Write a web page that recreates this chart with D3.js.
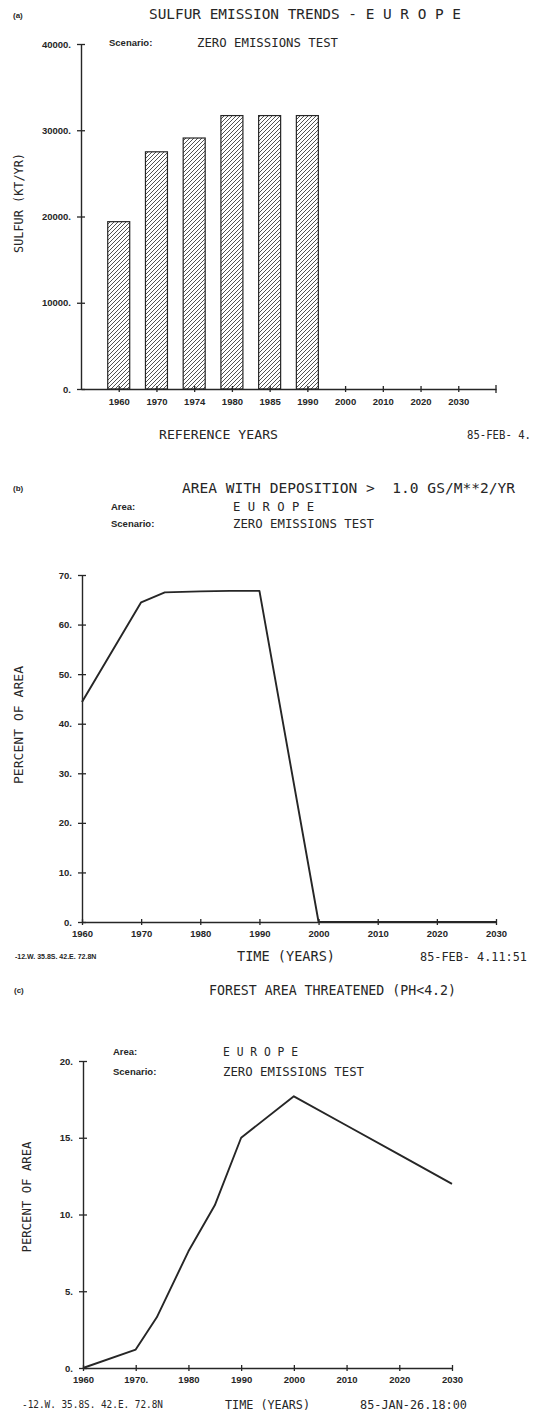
<!DOCTYPE html>
<html>
<head>
<meta charset="utf-8">
<script src="https://cdn.jsdelivr.net/npm/d3@7"></script>
<style>
  html, body { margin: 0; padding: 0; background: #fff; }
  svg { display: block; }
  text { white-space: pre; }
</style>
</head>
<body>
<svg id="chart" width="538" height="1411"></svg>
<script>
// ---------- DATA ----------
const yearsA = ["1960", "1970", "1974", "1980", "1985", "1990", "2000", "2010", "2020", "2030"];
const sulfurA = [19400, 27500, 29100, 31700, 31700, 31700, 0, 0, 0, 0];
const yTicksA = [0, 10000, 20000, 30000, 40000];

const yearsB = [1960, 1970, 1974, 1980, 1985, 1990, 2000, 2010, 2020, 2030];
const percentB = [44.4, 64.5, 66.5, 66.7, 66.8, 66.8, 0, 0, 0, 0];
const yTicksB = [0, 10, 20, 30, 40, 50, 60, 70];

const yearsC = [1960, 1970, 1974, 1980, 1985, 1990, 2000, 2010, 2020, 2030];
const percentC = [0, 1.2, 3.3, 7.6, 10.6, 15.0, 17.7, 15.8, 13.9, 12.0];
const yTicksC = [0, 5, 10, 15, 20];

const xTicksBC = [1960, 1970, 1980, 1990, 2000, 2010, 2020, 2030];
const xTickLabelsC = ["1960", "1970.", "1980", "1990", "2000", "2010", "2020", "2030"];

// ---------- HELPERS ----------
const svg = d3.select("#chart");
svg.append("rect").attr("width", 538).attr("height", 1411).attr("fill", "#fff");

const INK = "#262626";
const MONO = "'DejaVu Sans Mono', 'Liberation Mono', monospace";
const SANS = "'Liberation Sans', Arial, sans-serif";

function mono(txt, x0, x1, y, size) {
  return svg.append("text")
    .attr("x", x0).attr("y", y)
    .attr("dominant-baseline", "middle")
    .attr("font-family", MONO).attr("font-size", size)
    .attr("fill", INK)
    .attr("textLength", x1 - x0).attr("lengthAdjust", "spacingAndGlyphs")
    .text(txt);
}
function sans(txt, x, y, size, anchor, weight) {
  return svg.append("text")
    .attr("x", x).attr("y", y)
    .attr("dominant-baseline", "middle")
    .attr("text-anchor", anchor || "start")
    .attr("font-family", SANS).attr("font-size", size)
    .attr("font-weight", weight || "bold")
    .attr("fill", INK)
    .text(txt);
}
function vlabel(txt, cx, cy, len, size) {
  svg.append("text")
    .attr("transform", `translate(${cx},${cy}) rotate(-90)`)
    .attr("text-anchor", "middle")
    .attr("dominant-baseline", "middle")
    .attr("font-family", MONO).attr("font-size", size)
    .attr("fill", INK)
    .attr("textLength", len).attr("lengthAdjust", "spacingAndGlyphs")
    .text(txt);
}
function styleAxis(g, crossH, crossV) {
  g.select(".domain").attr("stroke", INK).attr("stroke-width", 1.4);
  g.selectAll(".tick line").attr("stroke", INK).attr("stroke-width", 1.3);
  if (crossH) g.selectAll(".tick line").attr("y1", -3).attr("y2", 3);
  if (crossV) g.selectAll(".tick line").attr("x1", -4).attr("x2", 4);
  g.selectAll(".tick text")
    .attr("font-family", SANS).attr("font-weight", "bold")
    .attr("fill", INK);
}

// hatch pattern
const defs = svg.append("defs");
defs.append("pattern")
  .attr("id", "hatch").attr("patternUnits", "userSpaceOnUse")
  .attr("width", 4).attr("height", 4)
  .append("path")
  .attr("d", "M-1,1 l2,-2 M0,4 l4,-4 M3,5 l2,-2")
  .attr("stroke", INK).attr("stroke-width", 0.8);

// ---------- PANEL A ----------
{
  const x = d3.scalePoint().domain(yearsA).range([81, 496]).padding(1);
  const y = d3.scaleLinear().domain([0, 40000]).range([389, 44]);
  const bw = 22;

  svg.append("g").selectAll("rect").data(yearsA.map((d, i) => ({ year: d, v: sulfurA[i] })))
    .join("rect")
    .attr("x", d => x(d.year) - bw / 2)
    .attr("width", bw)
    .attr("y", d => y(d.v))
    .attr("height", d => y(0) - y(d.v))
    .attr("fill", "url(#hatch)")
    .attr("stroke", INK).attr("stroke-width", 1.2);

  const gx = svg.append("g").attr("transform", `translate(0,${y(0)})`)
    .call(d3.axisBottom(x).tickSizeInner(3).tickSizeOuter(0).tickPadding(6));
  styleAxis(gx, true, false);
  gx.selectAll(".tick text").attr("font-size", 9.5);
  gx.append("line").attr("x1", 496).attr("x2", 496).attr("y1", -4).attr("y2", 4)
    .attr("stroke", INK).attr("stroke-width", 1.3);

  const gy = svg.append("g").attr("transform", `translate(81,0)`)
    .call(d3.axisLeft(y).tickValues(yTicksA).tickFormat(d => d + ".").tickSizeInner(4).tickSizeOuter(0).tickPadding(6));
  styleAxis(gy, false, true);
  gy.selectAll(".tick text").attr("font-size", 9.5);

  sans("(a)", 13, 16, 8);
  mono("SULFUR EMISSION TRENDS - E U R O P E", 149, 461, 15, 14.5);
  sans("Scenario:", 109, 43, 9.5);
  mono("ZERO EMISSIONS TEST", 197, 338, 43, 12.3);
  vlabel("SULFUR (KT/YR)", 19, 203, 100, 11.8);
  mono("REFERENCE YEARS", 159, 278, 435, 13);
  mono("85-FEB- 4.", 467, 531, 435, 11.5);
}

// ---------- PANEL B ----------
{
  const x = d3.scaleLinear().domain([1960, 2030]).range([82, 496]);
  const y = d3.scaleLinear().domain([0, 70]).range([922, 575]);

  const gx = svg.append("g").attr("transform", `translate(0,${y(0)})`)
    .call(d3.axisBottom(x).tickValues(xTicksBC).tickFormat(d => String(d)).tickSizeInner(3).tickSizeOuter(0).tickPadding(5));
  styleAxis(gx, true, false);
  gx.selectAll(".tick text").attr("font-size", 9.5);

  const gy = svg.append("g").attr("transform", `translate(82,0)`)
    .call(d3.axisLeft(y).tickValues(yTicksB).tickFormat(d => d + ".").tickSizeInner(4).tickSizeOuter(0).tickPadding(6));
  styleAxis(gy, false, true);
  gy.selectAll(".tick text").attr("font-size", 9.5);

  const line = d3.line().x((d, i) => x(yearsB[i])).y(d => y(d));
  svg.append("path").datum(percentB).attr("d", line)
    .attr("fill", "none").attr("stroke", INK).attr("stroke-width", 1.9)
    .attr("stroke-linejoin", "round");

  sans("(b)", 13, 489, 8);
  mono("AREA WITH DEPOSITION >  1.0 GS/M**2/YR", 182, 515, 489, 14.5);
  sans("Area:", 111, 507, 9.5);
  mono("E U R O P E", 233, 314, 507, 12.3);
  sans("Scenario:", 111, 524, 9.5);
  mono("ZERO EMISSIONS TEST", 233, 374, 524, 12.3);
  vlabel("PERCENT OF AREA", 19, 725, 118, 13);
  sans("-12.W. 35.8S. 42.E. 72.8N", 15, 957, 7);
  mono("TIME (YEARS)", 237, 335, 957, 13.5);
  mono("85-FEB- 4.11:51", 420, 527, 957, 11.8);
}

// ---------- PANEL C ----------
{
  const x = d3.scaleLinear().domain([1960, 2030]).range([83, 452]);
  const y = d3.scaleLinear().domain([0, 20]).range([1368, 1061]);

  const gx = svg.append("g").attr("transform", `translate(0,${y(0)})`)
    .call(d3.axisBottom(x).tickValues(xTicksBC).tickFormat((d, i) => xTickLabelsC[i]).tickSizeInner(3).tickSizeOuter(0).tickPadding(5));
  styleAxis(gx, true, false);
  gx.selectAll(".tick text").attr("font-size", 9.5);

  const gy = svg.append("g").attr("transform", `translate(83,0)`)
    .call(d3.axisLeft(y).tickValues(yTicksC).tickFormat(d => d + ".").tickSizeInner(4).tickSizeOuter(0).tickPadding(6));
  styleAxis(gy, false, true);
  gy.selectAll(".tick text").attr("font-size", 9.5);

  const line = d3.line().x((d, i) => x(yearsC[i])).y(d => y(d));
  svg.append("path").datum(percentC).attr("d", line)
    .attr("fill", "none").attr("stroke", INK).attr("stroke-width", 1.9)
    .attr("stroke-linejoin", "round");

  sans("(c)", 14, 991, 8);
  mono("FOREST AREA THREATENED (PH<4.2)", 209, 456, 991, 13.3);
  sans("Area:", 113, 1052, 9.5);
  mono("E U R O P E", 223, 298, 1052, 12.3);
  sans("Scenario:", 113, 1072, 9.5);
  mono("ZERO EMISSIONS TEST", 223, 364, 1072, 12.3);
  vlabel("PERCENT OF AREA", 27, 1197, 111, 12);
  mono("-12.W. 35.8S. 42.E. 72.8N", 22, 163, 1405, 10);
  mono("TIME (YEARS)", 225, 310, 1405, 11.8);
  mono("85-JAN-26.18:00", 360, 467, 1405, 11.8);
}
</script>
</body>
</html>
